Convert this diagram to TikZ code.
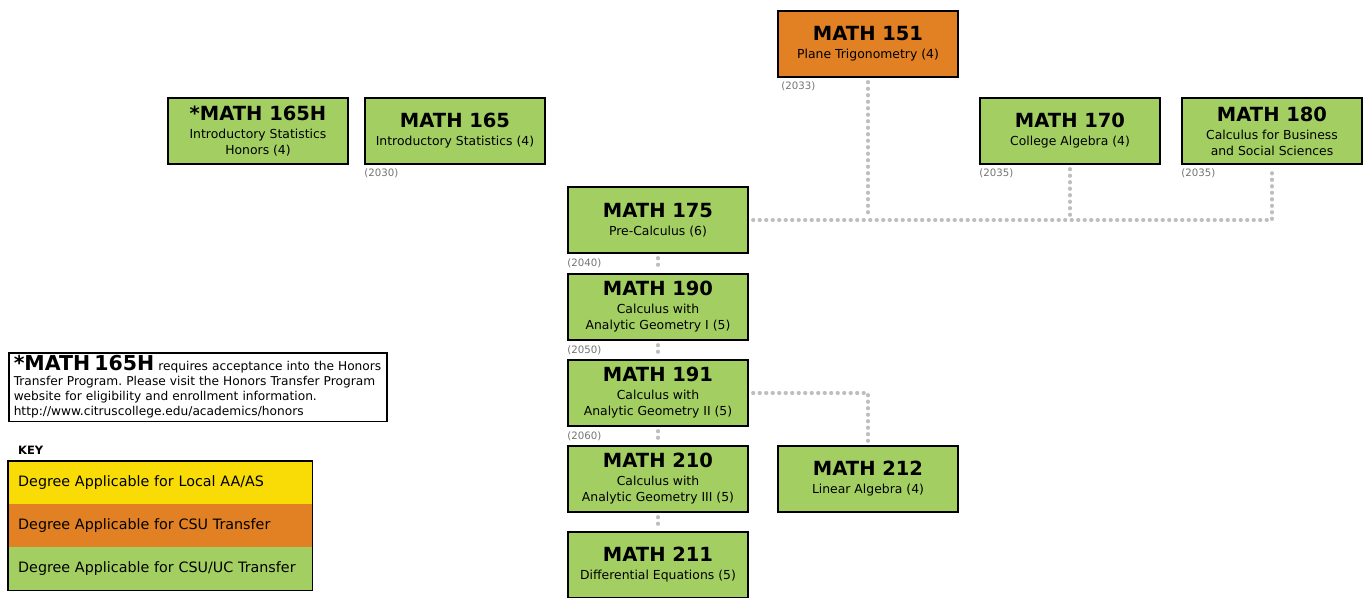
\documentclass[tikz,border=0pt]{standalone}
\usepackage{fontspec}
\setmainfont{DejaVu Sans}
\frenchspacing
\definecolor{csuuc}{RGB}{163,207,98}
\definecolor{csu}{RGB}{226,128,36}
\definecolor{localaa}{RGB}{249,220,6}
\definecolor{linkgray}{RGB}{190,190,190}
\definecolor{yeargray}{RGB}{115,115,115}
\newcommand{\crs}[2]{{\fontsize{19.5}{20}\selectfont\bfseries #1}\\[2pt]#2}

\begin{document}
\begin{tikzpicture}[x=1pt,y=-1pt,
  course/.style={draw=black,line width=1.6pt,fill=csuuc,minimum width=180pt,minimum height=66pt,
    inner sep=0pt,align=center,font=\fontsize{12.4}{16}\selectfont},
  year/.style={anchor=north west,inner sep=0pt,text=yeargray,font=\fontsize{10.2}{11}\selectfont},
  link/.style={linkgray,line width=3.4pt,line cap=round,dash pattern=on 0.8pt off 5.7pt,shorten <=4pt,shorten >=4pt},
  band/.style={anchor=north west,minimum height=42.7pt,text width=284pt,inner xsep=10pt,inner ysep=0pt,
    align=left,font=\fontsize{14.3}{16}\selectfont}]
\useasboundingbox (0,0) rectangle (1367,597);
\clip (0,0) rectangle (1367,597);
% course boxes
\node[course,fill=csu] (m151) at (868,44) {\crs{MATH 151}{Plane Trigonometry (4)}};
\node[course] (m165h) at (258,131) {\crs{*MATH 165H}{Introductory Statistics\\Honors (4)}};
\node[course] (m165) at (455,131) {\crs{MATH 165}{Introductory Statistics (4)}};
\node[course] (m170) at (1070,131) {\crs{MATH 170}{College Algebra (4)}};
\node[course] (m180) at (1272,131) {\crs{MATH 180}{Calculus for Business\\and Social Sciences}};
\node[course] (m175) at (658,220) {\crs{MATH 175}{Pre-Calculus (6)}};
\node[course] (m190) at (658,307) {\crs{MATH 190}{Calculus with\\Analytic Geometry I (5)}};
\node[course] (m191) at (658,393) {\crs{MATH 191}{Calculus with\\Analytic Geometry II (5)}};
\node[course] (m210) at (658,479) {\crs{MATH 210}{Calculus with\\Analytic Geometry III (5)}};
\node[course] (m212) at (868,479) {\crs{MATH 212}{Linear Algebra (4)}};
\node[course] (m211) at (658,565) {\crs{MATH 211}{Differential Equations (5)}};
% catalog numbers
\node[year,xshift=4pt,yshift=-4pt] (y151) at (m151.south west) {(2033)};
\node[year,yshift=-4pt] (y165) at (m165.south west) {(2030)};
\node[year,yshift=-4pt] (y170) at (m170.south west) {(2035)};
\node[year,yshift=-4pt] (y180) at (m180.south west) {(2035)};
\node[year,yshift=-5pt] (y175) at (m175.south west) {(2040)};
\node[year,yshift=-5pt] (y190) at (m190.south west) {(2050)};
\node[year,yshift=-5pt] (y191) at (m191.south west) {(2060)};
% dotted links
\draw[link] (m151.south) -- (m151.south |- m175.east);
\draw[link] (m170.south) -- (m170.south |- m175.east);
\draw[link] (m175.east) -| (m180.south);
\draw[link] (m175.south) -- (m190.north);
\draw[link] (m190.south) -- (m191.north);
\draw[link] (m191.south) -- (m210.north);
\draw[link] (m210.south) -- (m211.north);
\draw[link] (m191.east) -| (m212.north);
% honors note
\node[draw=black,line width=1.5pt,anchor=north west,text width=368pt,inner xsep=5pt,inner ysep=3pt,
  align=left,font=\fontsize{12.2}{15}\selectfont] (note) at (8,352)
  {{\fontsize{20.5}{15}\selectfont\bfseries *MATH 165H} requires acceptance into the Honors\\
   Transfer Program. Please visit the Honors Transfer Program\\
   website for eligibility and enrollment information.\\
   http://www.citruscollege.edu/academics/honors};
% key
\node[anchor=south west,inner sep=0pt,font=\fontsize{11.5}{13}\selectfont\bfseries] (keyhead) at (18,455) {KEY};
\node[band,fill=localaa] (kaa) at (8,461) {Degree Applicable for Local AA/AS};
\node[band,fill=csu] (kcsu) at (kaa.south west) {Degree Applicable for CSU Transfer};
\node[band,fill=csuuc] (kuc) at (kcsu.south west) {Degree Applicable for CSU/UC Transfer};
\draw[line width=1.5pt] (kaa.north west) rectangle (kuc.south east);
\end{tikzpicture}
\end{document}
